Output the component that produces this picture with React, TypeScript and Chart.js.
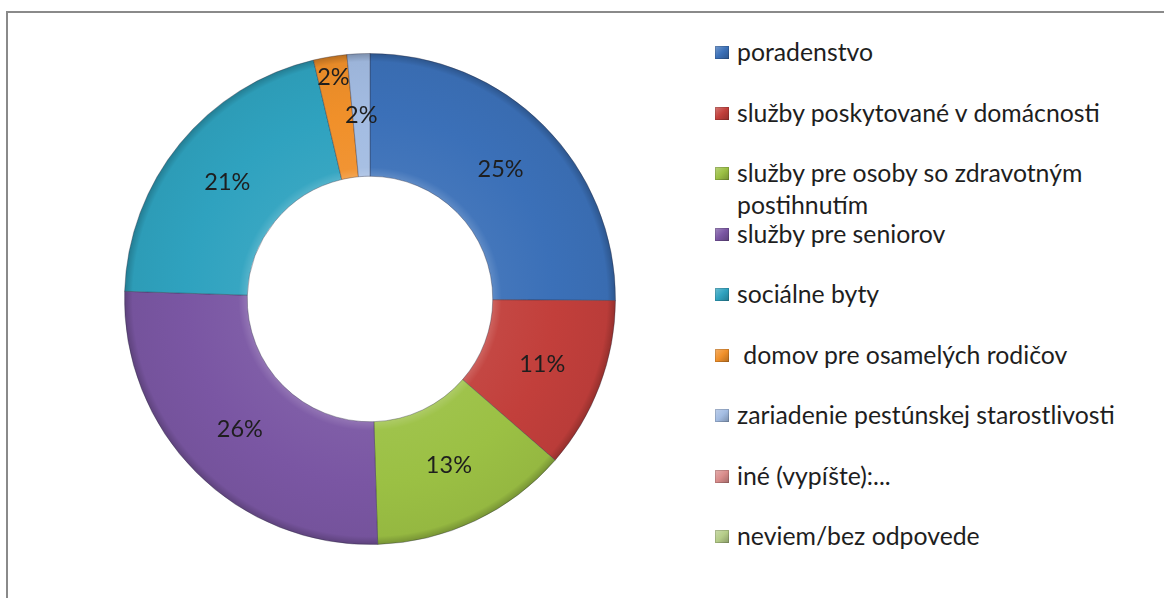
import React, { useEffect, useRef } from 'react';
import { Chart, registerables } from 'chart.js';

Chart.register(...registerables);

const categories: string[] = [
  'poradenstvo',
  'služby poskytované v domácnosti',
  'služby pre osoby so zdravotným postihnutím',
  'služby pre seniorov',
  'sociálne byty',
  ' domov pre osamelých rodičov',
  'zariadenie pestúnskej starostlivosti',
  'iné (vypíšte):...',
  'neviem/bez odpovede',
];

const shares: number[] = [25.1, 11.3, 13.1, 26.0, 20.8, 2.2, 1.5, 0, 0];

const sliceColors: string[] = [
  '#3B70B8',
  '#C23F3B',
  '#9BC044',
  '#7A56A3',
  '#2FA2BF',
  '#F0902A',
  '#A3BCE2',
  '#D98C8B',
  '#B5CC88',
];

const FONT = 'Lato, "Open Sans", sans-serif';

function hexToRgb(hex: string): [number, number, number] {
  const h = hex.replace('#', '');
  return [parseInt(h.slice(0, 2), 16), parseInt(h.slice(2, 4), 16), parseInt(h.slice(4, 6), 16)];
}

function shade(hex: string, amt: number): string {
  const [r, g, b] = hexToRgb(hex);
  const f = (c: number) =>
    Math.round(amt >= 0 ? c + (255 - c) * amt : c * (1 + amt));
  return `rgb(${f(r)},${f(g)},${f(b)})`;
}

const bevelFill = (ctx: any) => {
  const chart = ctx.chart;
  const base = sliceColors[ctx.dataIndex] || '#999';
  const area = chart.chartArea;
  if (!area) return base;
  const cx = (area.left + area.right) / 2;
  const cy = (area.top + area.bottom) / 2;
  const outer = Math.min(area.right - area.left, area.bottom - area.top) / 2;
  const inner = outer * 0.5;
  const g = chart.ctx.createRadialGradient(cx, cy, inner, cx, cy, outer);
  g.addColorStop(0, shade(base, 0.18));
  g.addColorStop(0.07, shade(base, 0.04));
  g.addColorStop(0.5, base);
  g.addColorStop(0.93, shade(base, -0.04));
  g.addColorStop(1, shade(base, -0.25));
  return g;
};

const sliceLabelsPlugin = {
  id: 'sliceLabels',
  afterDatasetsDraw(chart: any) {
    const meta = chart.getDatasetMeta(0);
    const data = chart.data.datasets[0].data as number[];
    const total = data.reduce((a, b) => a + b, 0);
    const ctx = chart.ctx;
    ctx.save();
    ctx.font = `23.5px ${FONT}`;
    ctx.fillStyle = '#1e1e1e';
    ctx.textAlign = 'center';
    ctx.textBaseline = 'middle';
    const items: any[] = [];
    meta.data.forEach((arc: any, i: number) => {
      const v = data[i];
      if (!v) return;
      const p = arc.getProps(['x', 'y', 'startAngle', 'endAngle', 'innerRadius', 'outerRadius'], true);
      const mid = (p.startAngle + p.endAngle) / 2;
      const text = Math.round((v / total) * 100) + '%';
      const w = ctx.measureText(text).width;
      items.push({ i, p, mid, text, w, r: (p.innerRadius + p.outerRadius) / 2 });
    });
    const pos = (it: any) => ({
      x: it.p.x + Math.cos(it.mid) * it.r,
      y: it.p.y + Math.sin(it.mid) * it.r,
    });
    for (let a = 0; a < items.length; a++) {
      for (let b = a + 1; b < items.length; b++) {
        const pa = pos(items[a]);
        const pb = pos(items[b]);
        if (Math.abs(pa.x - pb.x) < (items[a].w + items[b].w) / 2 && Math.abs(pa.y - pb.y) < 26) {
          items[a].r = items[a].p.outerRadius * 0.915;
        }
      }
    }
    items.forEach((it) => {
      const q = pos(it);
      ctx.fillText(it.text, q.x, q.y);
    });
    ctx.restore();
  },
};

export default function App() {
  const canvasRef = useRef<HTMLCanvasElement | null>(null);

  useEffect(() => {
    if (!canvasRef.current) return;
    const chart = new Chart(canvasRef.current, {
      type: 'doughnut',
      data: {
        labels: categories,
        datasets: [
          {
            data: shares,
            backgroundColor: bevelFill as any,
            borderColor: 'rgba(40,40,60,0.35)',
            borderWidth: 1,
          },
        ],
      },
      options: {
        animation: false,
        responsive: true,
        maintainAspectRatio: false,
        devicePixelRatio: 1,
        cutout: '50%',
        layout: { padding: 13 },
        plugins: {
          legend: { display: false },
          tooltip: { enabled: false },
        },
      },
      plugins: [sliceLabelsPlugin],
    });
    return () => chart.destroy();
  }, []);

  return (
    <div
      style={{
        position: 'absolute',
        left: 6,
        top: 11,
        width: 1158,
        height: 587,
        boxSizing: 'border-box',
        borderTop: '2px solid #8a8a8a',
        borderLeft: '2px solid #8a8a8a',
        background: '#fff',
        overflow: 'hidden',
      }}
    >
      <div style={{ position: 'absolute', left: 103, top: 27, width: 518, height: 518 }}>
        <canvas ref={canvasRef} />
      </div>
      {categories.map((label, i) => (
        <div
          key={i}
          style={{
            position: 'absolute',
            left: 707,
            top: 23 + 60.5 * i,
            width: 440,
            fontFamily: FONT,
            fontSize: 24.8,
            lineHeight: '32px',
            color: '#1e1e1e',
            whiteSpace: 'pre-wrap',
          }}
        >
          <span
            style={{
              position: 'absolute',
              left: 0,
              top: 10,
              width: 14,
              height: 13,
              background: `linear-gradient(135deg, ${shade(sliceColors[i], 0.3)} 0%, ${sliceColors[i]} 50%, ${shade(sliceColors[i], -0.25)} 100%)`,
              boxShadow: 'inset 0 0 0 1px rgba(0,0,0,0.15)',
            }}
          />
          <div style={{ marginLeft: 22 }}>{label}</div>
        </div>
      ))}
    </div>
  );
}
